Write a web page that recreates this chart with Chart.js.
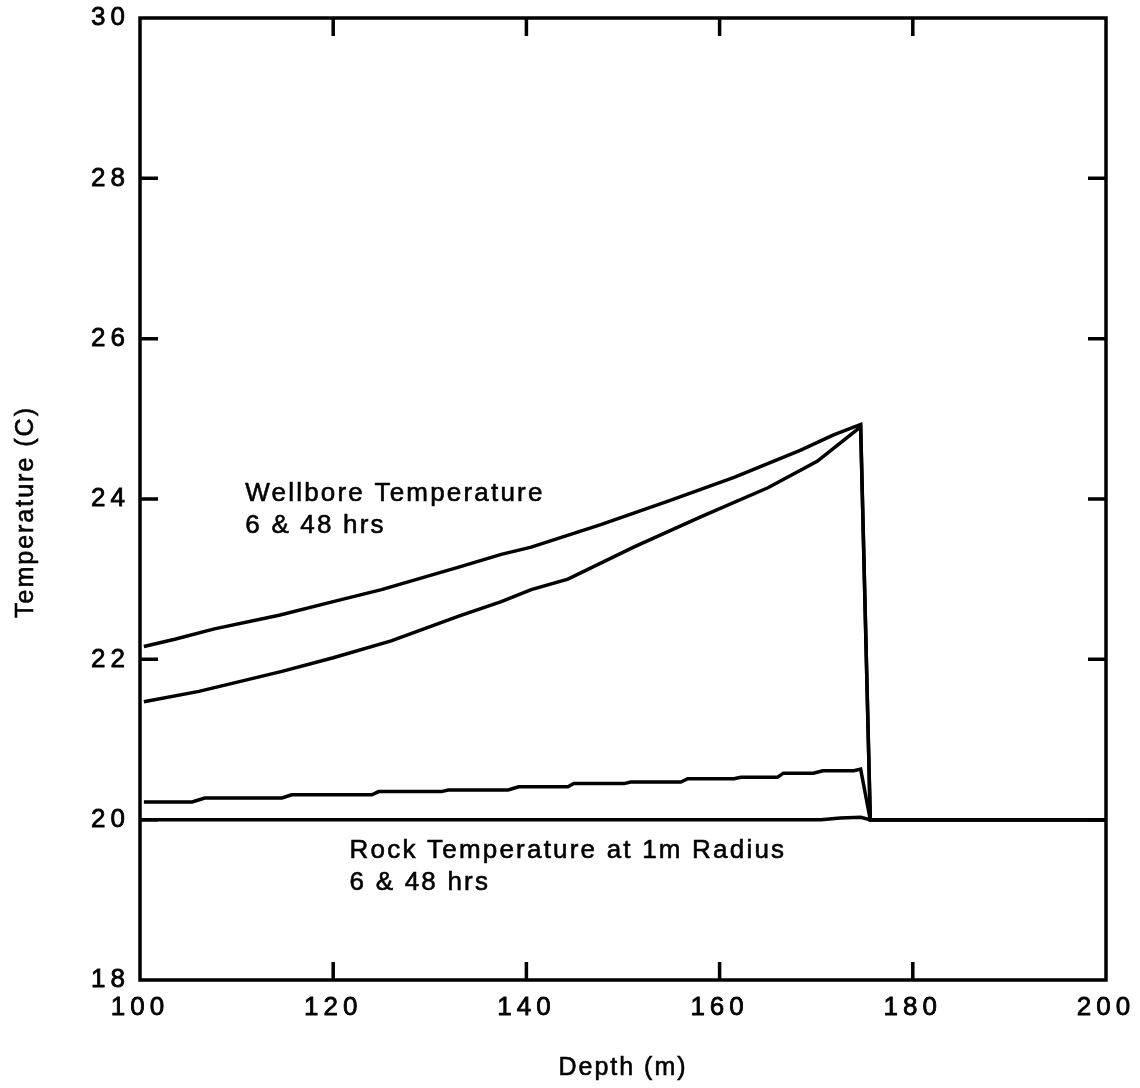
<!DOCTYPE html>
<html lang="en">
<head>
  <meta charset="UTF-8" />
  <title>Wellbore and Rock Temperature vs Depth</title>
  <script src="https://cdn.jsdelivr.net/npm/chart.js"></script>
  <style>
    body {
      margin: 0;
      background: #fff;
    }
    #chart-container {
      width: 1140px;
      height: 1088px;
    }
  </style>
</head>
<body>
  <div id="chart-container">
    <canvas id="tempChart"></canvas>
  </div>
  <script>
    // axis ticks
    const xTicks = [100, 120, 140, 160, 180, 200];
    const yTicks = [18, 20, 22, 24, 26, 28, 30];

    // wellbore temperature, upper curve
    const wellUpperDepth = [100.4, 103.6, 107.7, 114.4, 120.0, 125.0, 133.0, 137.4, 140.5, 147.7, 154.6, 161.5, 168.4, 171.8, 174.6, 175.6, 200];
    const wellUpperTemp = [22.16, 22.25, 22.38, 22.55, 22.72, 22.87, 23.15, 23.31, 23.40, 23.68, 23.97, 24.27, 24.61, 24.80, 24.93, 20.0, 20.0];

    // wellbore temperature, lower curve
    const wellLowerDepth = [100.4, 106.1, 114.7, 120.0, 126.0, 133.0, 137.4, 140.5, 144.3, 151.1, 158.1, 165.0, 170.1, 174.6, 175.6, 200];
    const wellLowerTemp = [21.47, 21.60, 21.85, 22.02, 22.23, 22.54, 22.72, 22.87, 23.00, 23.40, 23.78, 24.14, 24.47, 24.90, 20.0, 20.0];

    // rock temperature at 1m radius, upper curve (stepped)
    const rockUpperDepth = [100.4, 105.4, 106.7, 114.7, 115.7, 124.0, 124.7, 131.2, 131.9, 138.1, 139.2, 144.3, 144.9, 150.1, 150.8, 156.0, 156.7, 161.5, 162.2, 166.0, 166.6, 169.7, 170.7, 173.9, 174.6, 175.6, 200];
    const rockUpperTemp = [20.22, 20.22, 20.27, 20.27, 20.31, 20.31, 20.35, 20.35, 20.37, 20.37, 20.41, 20.41, 20.45, 20.45, 20.47, 20.47, 20.51, 20.51, 20.53, 20.53, 20.58, 20.58, 20.61, 20.61, 20.63, 20.0, 20.0];

    // rock temperature at 1m radius, lower curve
    const rockLowerDepth = [100, 170.5, 172.5, 174.6, 175.6, 200];
    const rockLowerTemp = [20.0, 20.0, 20.02, 20.03, 20.0, 20.0];

    const toPoints = (xs, ys) => xs.map((x, i) => ({ x: x, y: ys[i] }));

    const FONT = '"Liberation Sans", Arial, Helvetica, sans-serif';

    const lineStyle = {
      borderColor: "#000",
      borderWidth: 3.5,
      pointRadius: 0,
      tension: 0,
      fill: false,
      showLine: true,
    };

    // heavier text, closer to the scanned original
    const boldText = (ctx, text, x, y) => {
      ctx.fillText(text, x, y);
      ctx.strokeText(text, x, y);
    };

    // frame, inward ticks, axis titles and curve labels
    const framePlugin = {
      id: "frame",
      beforeDraw(chart) {
        chart.ctx.letterSpacing = "5px";
      },
      beforeDatasetsDraw(chart) {
        chart.ctx.letterSpacing = "0px";
      },
      afterDraw(chart) {
        const ctx = chart.ctx;
        const a = chart.chartArea;
        const xs = chart.scales.x;
        const ys = chart.scales.y;
        const tick = 18;

        ctx.save();
        ctx.strokeStyle = "#000";
        ctx.lineWidth = 3.5;
        ctx.strokeRect(a.left, a.top, a.right - a.left, a.bottom - a.top);

        ctx.beginPath();
        xTicks.slice(1, -1).forEach((v) => {
          const px = xs.getPixelForValue(v);
          ctx.moveTo(px, a.top);
          ctx.lineTo(px, a.top + tick);
          ctx.moveTo(px, a.bottom);
          ctx.lineTo(px, a.bottom - tick);
        });
        yTicks.slice(1, -1).forEach((v) => {
          const py = ys.getPixelForValue(v);
          ctx.moveTo(a.left, py);
          ctx.lineTo(a.left + tick, py);
          ctx.moveTo(a.right, py);
          ctx.lineTo(a.right - tick, py);
        });
        ctx.stroke();

        ctx.fillStyle = "#000";
        ctx.lineWidth = 0.6;
        ctx.letterSpacing = "2.2px";
        ctx.font = "26px " + FONT;
        ctx.textBaseline = "alphabetic";
        ctx.textAlign = "left";

        const wx = xs.getPixelForValue(110.9);
        const wy = ys.getPixelForValue(23.97);
        boldText(ctx, "Wellbore Temperature", wx, wy);
        boldText(ctx, "6 & 48 hrs", wx, wy + 32);

        const rx = xs.getPixelForValue(121.7);
        const ry = ys.getPixelForValue(19.52);
        boldText(ctx, "Rock Temperature at 1m Radius", rx, ry);
        boldText(ctx, "6 & 48 hrs", rx, ry + 32);

        ctx.font = "25px " + FONT;
        ctx.letterSpacing = "2px";
        ctx.textAlign = "center";
        ctx.textBaseline = "middle";
        boldText(ctx, "Depth (m)", (a.left + a.right) / 2, 1068);

        ctx.translate(26, 512);
        ctx.rotate(-Math.PI / 2);
        boldText(ctx, "Temperature (C)", 0, 0);
        ctx.restore();
      },
    };

    const ctx = document.getElementById("tempChart").getContext("2d");

    new Chart(ctx, {
      type: "scatter",
      data: {
        datasets: [
          { label: "Wellbore (upper)", data: toPoints(wellUpperDepth, wellUpperTemp), ...lineStyle },
          { label: "Wellbore (lower)", data: toPoints(wellLowerDepth, wellLowerTemp), ...lineStyle },
          { label: "Rock 1m (upper)", data: toPoints(rockUpperDepth, rockUpperTemp), ...lineStyle },
          { label: "Rock 1m (lower)", data: toPoints(rockLowerDepth, rockLowerTemp), ...lineStyle },
        ],
      },
      options: {
        responsive: true,
        maintainAspectRatio: false,
        animation: false,
        events: [],
        layout: {
          padding: { left: 0, right: 34, top: 18, bottom: 0 },
        },
        plugins: {
          legend: { display: false },
          tooltip: { enabled: false },
        },
        scales: {
          x: {
            type: "linear",
            min: 100,
            max: 200,
            afterBuildTicks: (scale) => {
              scale.ticks = xTicks.map((v) => ({ value: v }));
            },
            afterFit: (scale) => {
              scale.height = 108;
            },
            grid: { display: false },
            border: { display: false },
            ticks: {
              color: "#000",
              textStrokeColor: "#000",
              textStrokeWidth: 0.8,
              padding: 4,
              maxRotation: 0,
              font: { family: FONT, size: 26 },
            },
          },
          y: {
            type: "linear",
            min: 18,
            max: 30,
            afterBuildTicks: (scale) => {
              scale.ticks = yTicks.map((v) => ({ value: v }));
            },
            afterFit: (scale) => {
              scale.width = 140;
            },
            grid: { display: false },
            border: { display: false },
            ticks: {
              color: "#000",
              textStrokeColor: "#000",
              textStrokeWidth: 0.8,
              padding: 2,
              font: { family: FONT, size: 26 },
            },
          },
        },
      },
      plugins: [framePlugin],
    });
  </script>
</body>
</html>
